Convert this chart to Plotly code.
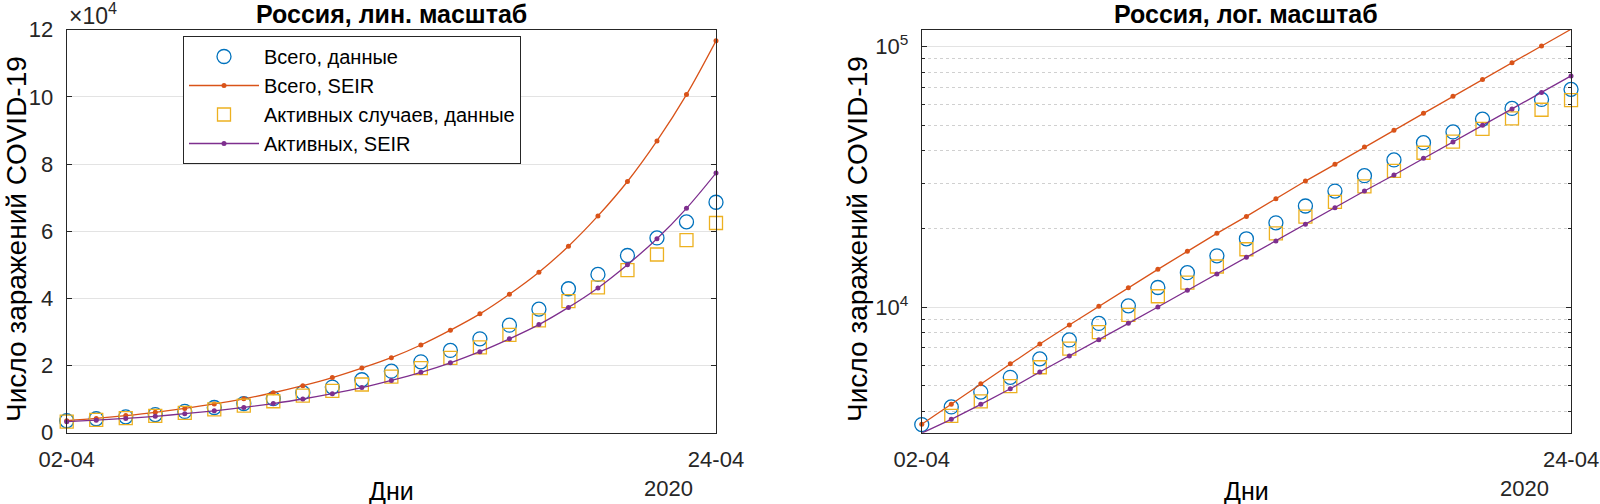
import plotly.graph_objects as go
import pandas as pd

# Russia, 2 Apr - 24 Apr 2020
days = pd.date_range("2020-04-02", "2020-04-24", freq="D")

total_data = [3548, 4149, 4731, 5389, 6343, 7497, 8672, 10131, 11917, 13584, 15770, 18328,
              21102, 24490, 27938, 32008, 36793, 42853, 47121, 52763, 57999, 62773, 68622]
active_data = [3283, 3834, 4355, 4989, 5890, 6945, 8029, 9357, 11028, 12433, 14349, 16710,
               19238, 22306, 25402, 29145, 33423, 39201, 43270, 48434, 53066, 57327, 62439]
total_seir = [3557, 4244, 5090, 6075, 7234, 8552, 10090, 11890, 13990, 16400, 19230, 22330,
              26110, 30520, 35380, 41220, 47780, 55520, 64550, 74800, 86880, 100670, 116700]
active_seir = [3290, 3717, 4244, 4871, 5645, 6504, 7510, 8682, 10030, 11620, 13420, 15560,
               17970, 20820, 24120, 27950, 32190, 37310, 43110, 50020, 57740, 66800, 77300]

lin_ticks = [0, 20000, 40000, 60000, 80000, 100000, 120000]
lin_ticktext = ['0', '2', '4', '6', '8', '10', '12']
log_minor = [4000, 5000, 6000, 7000, 8000, 9000,
             20000, 30000, 40000, 50000, 60000, 70000, 80000, 90000]

blue = '#0072BD'
orange = '#D95319'
yellow = '#EDB120'
purple = '#7E2F8E'
axcol = '#262626'
gridcol = '#E3E3E3'
font = 'Liberation Sans, Arial, sans-serif'

fig = go.Figure()

for i, (xa, ya) in enumerate([('x', 'y'), ('x2', 'y2')]):
    show = i == 0
    shape = 'spline' if i == 0 else 'linear'
    fig.add_trace(go.Scatter(x=days, y=total_data, mode='markers', name='Всего, данные',
                             marker=dict(symbol='circle-open', size=14, color=blue,
                                         line=dict(width=1.3)),
                             xaxis=xa, yaxis=ya, showlegend=show, cliponaxis=False))
    fig.add_trace(go.Scatter(x=days, y=total_seir, mode='lines+markers', name='Всего, SEIR',
                             line=dict(color=orange, width=1.3, shape=shape),
                             marker=dict(size=5, color=orange),
                             xaxis=xa, yaxis=ya, showlegend=show, cliponaxis=False))
    fig.add_trace(go.Scatter(x=days, y=active_data, mode='markers',
                             name='Активных случаев, данные',
                             marker=dict(symbol='square-open', size=13, color=yellow,
                                         line=dict(width=1.3)),
                             xaxis=xa, yaxis=ya, showlegend=show, cliponaxis=False))
    fig.add_trace(go.Scatter(x=days, y=active_seir, mode='lines+markers', name='Активных, SEIR',
                             line=dict(color=purple, width=1.3, shape=shape),
                             marker=dict(size=5, color=purple),
                             xaxis=xa, yaxis=ya, showlegend=show, cliponaxis=False))

xcommon = dict(range=[days[0], days[-1]], tickvals=[days[0], days[-1]], tickformat='%d-%m',
               showgrid=False, zeroline=False, showline=True, linecolor=axcol, linewidth=1,
               mirror='ticks', ticks='inside', ticklen=5, tickcolor=axcol, automargin=False,
               tickfont=dict(size=22, color=axcol), ticklabelstandoff=7)
ycommon = dict(showline=True, linecolor=axcol, linewidth=1, mirror='ticks', ticks='inside',
               ticklen=5, tickcolor=axcol, showgrid=True, gridcolor=gridcol, zeroline=False,
               automargin=False, tickfont=dict(size=22, color=axcol), ticklabelstandoff=8)

fig.update_layout(
    width=1600, height=504,
    margin=dict(l=0, r=0, t=0, b=0),
    paper_bgcolor='white', plot_bgcolor='white',
    font=dict(family=font, color=axcol),
    xaxis=dict(domain=[0.0417, 0.4475], anchor='y', **xcommon),
    yaxis=dict(domain=[0.1415, 0.9411], anchor='x', range=[0, 120000],
               tickvals=lin_ticks, ticktext=lin_ticktext, **ycommon),
    xaxis2=dict(domain=[0.5761, 0.9819], anchor='y2', **xcommon),
    yaxis2=dict(domain=[0.1415, 0.9411], anchor='x2', type='log', range=[3.519, 5.0655],
                tickvals=[10000, 100000], ticktext=['10<sup>4</sup>', '10<sup>5</sup>'],
                minor=dict(tickvals=log_minor, showgrid=True, gridcolor='#D0D0D0',
                           griddash='dot', ticks='inside', ticklen=3, tickcolor=axcol),
                **ycommon),
    legend=dict(x=183 / 1600, y=1 - 36 / 504, xanchor='left', yanchor='top',
                bgcolor='white', bordercolor=axcol, borderwidth=1,
                font=dict(size=20, color='black'), itemwidth=70, tracegroupgap=0),
    showlegend=True,
)

ann = [
    dict(text='<b>Россия, лин. масштаб</b>', x=391 / 1600, y=1 - 14 / 504, size=25),
    dict(text='<b>Россия, лог. масштаб</b>', x=1246 / 1600, y=1 - 14 / 504, size=25),
    dict(text='Дни', x=391 / 1600, y=1 - 491 / 504, size=25),
    dict(text='Дни', x=1246 / 1600, y=1 - 491 / 504, size=25),
]
for a in ann:
    fig.add_annotation(text=a['text'], x=a['x'], y=a['y'], xref='paper', yref='paper',
                       xanchor='center', yanchor='middle', showarrow=False,
                       font=dict(size=a['size'], color='black'))

for xc in [16 / 1600, 857 / 1600]:
    fig.add_annotation(text='Число заражений COVID-19', x=xc, y=1 - 239 / 504,
                       xref='paper', yref='paper', xanchor='center', yanchor='middle',
                       textangle=-90, showarrow=False, font=dict(size=28, color='black'))

for xr in [695 / 1600, 1551 / 1600]:
    fig.add_annotation(text='2020', x=xr, y=1 - 488 / 504, xref='paper', yref='paper',
                       xanchor='right', yanchor='middle', showarrow=False,
                       font=dict(size=22, color=axcol))

fig.add_annotation(text='×10<sup>4</sup>', x=67 / 1600, y=1 - 14 / 504, xref='paper',
                   yref='paper', xanchor='left', yanchor='middle', showarrow=False,
                   font=dict(size=23, color=axcol))

# the page's default body margin would shift the 1600x504 figure
fig.write_html("out.html", config={'displayModeBar': False},
               post_script="document.body.style.margin = '0';")
